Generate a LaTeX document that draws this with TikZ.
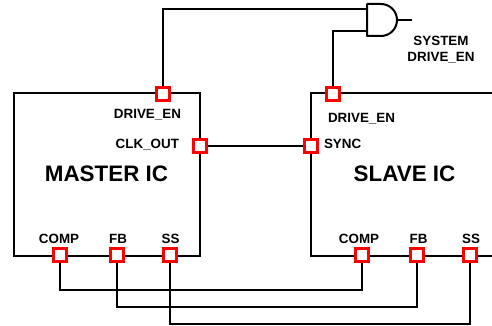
\documentclass[tikz,border=0pt]{standalone}
\usepackage{fontspec}
\setmainfont{Liberation Sans}
\begin{document}
\begin{tikzpicture}[x=1pt,y=-1pt,line width=2pt,
    icbox/.style={draw,rectangle,inner sep=0pt},
    pad/.style={draw=red,line width=2.2pt,fill=white,rectangle,minimum size=13pt,inner sep=0pt},
    lbl/.style={inner sep=0pt,font=\fontsize{13.4}{15}\selectfont\bfseries},
    title/.style={inner sep=0pt,font=\fontsize{22.4}{25}\selectfont\bfseries}]
  \useasboundingbox (0,0) rectangle (492,326);
  \clip (0,0) rectangle (492,326);

  % the two chips
  \node [icbox,minimum width=186pt,minimum height=163pt] (master) at (107,174.5) {};
  \node [icbox,minimum width=220pt,minimum height=163pt] (slave) at (421,174.5) {};

  \node [title,anchor=base] (mname) at (106.5,181.5) {MASTER IC};
  \node [title,anchor=base] (sname) at (404.5,181.5) {SLAVE IC};

  % pads
  \node [pad] (mde) at (163,94) {};
  \node [pad] (mclk) at (200,146) {};
  \node [pad] (mcomp) at (60,255) {};
  \node [pad] (mfb) at (117,255) {};
  \node [pad] (mss) at (170,255) {};

  \node [pad] (sde) at (333,94) {};
  \node [pad] (ssync) at (311,146) {};
  \node [pad] (scomp) at (362,255) {};
  \node [pad] (sfb) at (417,255) {};
  \node [pad] (sss) at (470,255) {};

  % pin labels
  \node [lbl,anchor=base east] (mdelbl) at (182,118.5) {DRIVE\_EN};
  \node [lbl,anchor=base east] (mclklbl) at (180,148.5) {CLK\_OUT};
  \node [lbl,anchor=base] (mcomplbl) at (59,243) {COMP};
  \node [lbl,anchor=base] (mfblbl) at (118,243) {FB};
  \node [lbl,anchor=base] (msslbl) at (170.5,243) {SS};

  \node [lbl,anchor=base west] (sdelbl) at (327,123) {DRIVE\_EN};
  \node [lbl,anchor=base west] (ssynclbl) at (323,148.5) {SYNC};
  \node [lbl,anchor=base] (scomplbl) at (359,243) {COMP};
  \node [lbl,anchor=base] (sfblbl) at (418.5,243) {FB};
  \node [lbl,anchor=base] (ssslbl) at (471,243) {SS};

  % and gate
  \coordinate (in1) at (367,9);
  \coordinate (in2) at (367,31);
  \coordinate (gout) at (397,20);
  \coordinate (sysout) at (412,20);
  \draw [line join=round] (367,4) -- (381,4)
    arc [start angle=90,end angle=-90,radius=16pt] -- (367,36) -- cycle;
  \draw (gout) -- (sysout);
  \node [lbl,anchor=base] (syslbl) at (441,46) {SYSTEM};
  \node [lbl,anchor=base] (sysdelbl) at (441,62) {DRIVE\_EN};

  % wires
  \draw (mde.north) |- (in1);
  \draw (sde.north) |- (in2);
  \draw (mclk.east) -- (ssync.west);
  \draw (mcomp.south) -- (mcomp.south |- 0,290) -| (scomp.south);
  \draw (mfb.south) -- (mfb.south |- 0,307) -| (sfb.south);
  \draw (mss.south) -- (mss.south |- 0,324) -| (sss.south);
\end{tikzpicture}
\end{document}
